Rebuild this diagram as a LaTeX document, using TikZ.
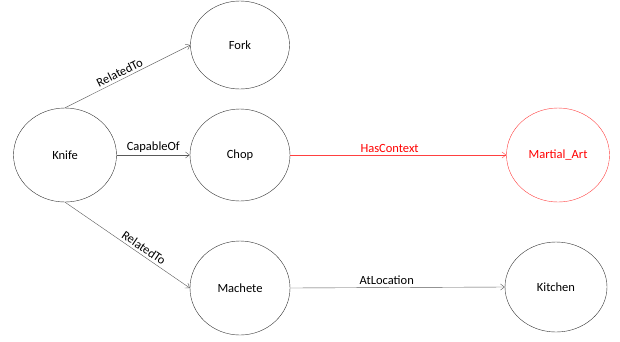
\documentclass[tikz,border=0pt]{standalone}
\usepackage{fontspec}
\setmainfont{Carlito}
\usetikzlibrary{shapes.geometric,arrows.meta}

\tikzset{
    concept/.style={draw=black!80, ellipse, inner sep=0pt, minimum width=100pt, minimum height=92pt, font=\fontsize{12.5}{14}\selectfont},
    relation/.style={draw=black!65, -{Straight Barb[length=4pt,width=6pt]}},
    rellabel/.style={font=\fontsize{12.5}{14}\selectfont, inner sep=2.5pt}
}

\begin{document}
\begin{tikzpicture}[x=1pt, y=-1pt]
                    \useasboundingbox (0, 0) rectangle (620, 341);

                    \node[concept, minimum width=103pt, minimum height=94pt] (knife) at (65, 155) {Knife};
                    \node[concept, minimum width=99pt, minimum height=88pt] (fork) at (240, 45) {Fork};
                    \node[concept] (chop) at (240, 155) {Chop};
                    \node[concept, minimum height=94pt] (machete) at (240, 288) {Machete};
                    \node[concept, draw=red!75, text=red, minimum width=103pt, minimum height=94pt] (martial) at (558, 155) {Martial\_Art};
                    \node[concept, minimum width=102pt, minimum height=90pt] (kitchen) at (556, 287) {Kitchen};

                    \draw[relation] (knife.north) -- node[rellabel, above, sloped, pos=0.46] {RelatedTo} (fork.west);
                    \draw[relation] (knife.east) -- node[rellabel, above] {CapableOf} (chop.west);
                    \draw[relation] (knife.south) -- node[rellabel, above, sloped, pos=0.6] {RelatedTo} (machete.west);
                    \draw[relation, draw=red!75] (chop.east) -- node[rellabel, above, text=red, pos=0.46] {HasContext} (martial.west);
                    \draw[relation] (machete.east) -- node[rellabel, above, pos=0.45] {AtLocation} (kitchen.west);
                \end{tikzpicture}
\end{document}
